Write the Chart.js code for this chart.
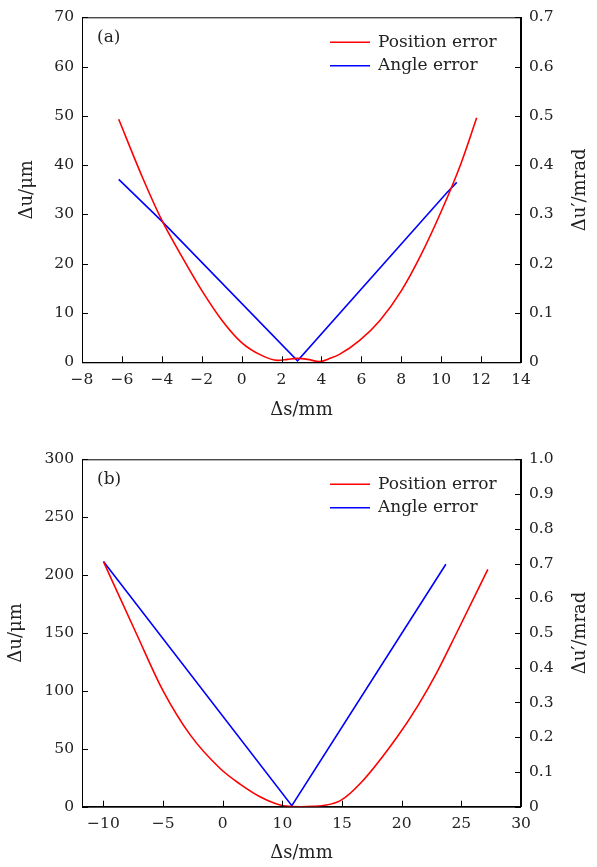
<!DOCTYPE html>
<html>
<head>
<meta charset="utf-8">
<script src="https://cdn.jsdelivr.net/npm/chart.js@4.4.1/dist/chart.umd.min.js"></script>
<style>
  body { margin: 0; background: #fff; }
  canvas { position: absolute; left: 0; }
  #chartA { top: 0; }
  #chartB { top: 433px; }
</style>
</head>
<body>
<canvas id="chartA" width="597" height="433"></canvas>
<canvas id="chartB" width="597" height="434"></canvas>
<script>
// (a) position error, um
var posXA = [-6.16, -5.0, -4.02, -3.0, -2.0, -1.0, 0, 1.0, 1.8, 2.3, 2.75, 3.3, 3.9, 4.43, 4.9, 5.93, 6.93, 8.0, 9.0, 10.0, 10.96, 11.78];
var posUA = [49.3, 37.8, 29, 21.5, 14.6, 8.6, 4.0, 1.4, 0.4, 0.6, 0.8, 0.6, 0.15, 0.8, 1.6, 4.5, 8.5, 14.5, 21.9, 30.6, 40.0, 49.6];
// (a) angle error, mrad
var angXA = [-6.16, -4.04, 2.8, 10.26, 10.78];
var angVA = [0.371, 0.288, 0.003, 0.343, 0.365];

// (b) position error, um
var posXB = [-5, -2.2, 0, 2.27, 4.78, 6.45, 8.12, 9.8, 10.6, 11.6, 12.6, 13.3, 14.86, 16.54, 19.6, 21.4, 22.95, 24.6, 27.22];
var posUB = [211.6, 148.5, 100, 62, 33, 19.5, 8.6, 1.5, 0.3, 0, 0.3, 0.8, 5.2, 20.2, 60, 88, 116, 150, 205];
// (b) angle error, mrad
var angXB = [-5, 10.79, 23.7];
var angVB = [0.706, 0.003, 0.698];

var xTicksA = [-8, -6, -4, -2, 0, 2, 4, 6, 8, 10, 12, 14];
var xLabelsA = ['\u22128', '\u22126', '\u22124', '\u22122', '0', '2', '4', '6', '8', '10', '12', '14'];
var xTicksB = [-5, 0, 5, 10, 15, 20, 25, 30];
var xLabelsB = ['\u221210', '\u22125', '0', '10', '15', '20', '25', '30'];
var yLabelsA2 = ['0', '0.1', '0.2', '0.3', '0.4', '0.5', '0.6', '0.7'];
var yLabelsB2 = ['0', '0.1', '0.2', '0.3', '0.4', '0.5', '0.6', '0.7', '0.8', '0.9', '1.0'];

var FONT = 'DejaVu Serif';
var TXT = '#222';
var TICK = 15.5, TITLE = 18, LEG = 17;

function pts(xs, ys) {
    return xs.map(function (x, i) { return { x: x, y: ys[i] }; });
}

// frame + inward ticks + panel letter + legend + right axis title
var decor = {
    id: 'decor',
    afterDraw: function (chart) {
        var ctx = chart.ctx, a = chart.chartArea;
        ctx.save();
        ctx.strokeStyle = '#000';
        ctx.lineWidth = 1;
        ctx.strokeRect(a.left + 0.5, a.top + 0.5, a.right - a.left - 1, a.bottom - a.top);
        ctx.beginPath();
        ['x', 'y', 'y2'].forEach(function (id) {
            var s = chart.scales[id];
            s.ticks.forEach(function (t) {
                var p = Math.round(s.getPixelForValue(t.value)) + 0.5;
                if (id === 'x') { ctx.moveTo(p, a.bottom); ctx.lineTo(p, a.bottom - 6); }
                else if (id === 'y') { ctx.moveTo(a.left, p); ctx.lineTo(a.left + 6, p); }
                else { ctx.moveTo(a.right, p); ctx.lineTo(a.right - 6, p); }
            });
        });
        ctx.stroke();

        ctx.fillStyle = TXT;
        ctx.font = LEG + 'px "' + FONT + '"';
        ctx.textBaseline = 'middle';
        ctx.textAlign = 'left';
        ctx.fillText(chart.options.plugins.decor.panel, a.left + 15, a.top + 20);

        chart.data.datasets.forEach(function (ds, i) {
            var y = a.top + 25 + i * 23.5;
            ctx.strokeStyle = ds.borderColor;
            ctx.lineWidth = 1.5;
            ctx.beginPath();
            ctx.moveTo(a.right - 191, y);
            ctx.lineTo(a.right - 151, y);
            ctx.stroke();
            ctx.fillText(ds.label, a.right - 143, y);
        });

        // right axis title, reading bottom to top like the left one
        ctx.font = TITLE + 'px "' + FONT + '"';
        ctx.translate(chart.width - 17, (a.top + a.bottom) / 2);
        ctx.rotate(-Math.PI / 2);
        ctx.textAlign = 'center';
        ctx.fillText('\u0394u\u2032/mrad', 0, 0);
        ctx.restore();
    }
};

function makeChart(el, cfg) {
    return new Chart(document.getElementById(el), {
        type: 'line',
        data: {
            datasets: [{
                label: 'Position error',
                data: cfg.pos,
                yAxisID: 'y',
                borderColor: '#ff0000',
                borderWidth: 1.6,
                pointRadius: 0,
                cubicInterpolationMode: 'monotone'
            }, {
                label: 'Angle error',
                data: cfg.ang,
                yAxisID: 'y2',
                borderColor: '#0000ff',
                borderWidth: 1.6,
                pointRadius: 0,
                tension: 0
            }]
        },
        options: {
            responsive: false,
            animation: false,
            layout: { padding: { top: cfg.padTop, left: 0, right: 0, bottom: 0 } },
            plugins: {
                legend: { display: false },
                tooltip: { enabled: false },
                decor: { panel: cfg.panel }
            },
            scales: {
                x: {
                    type: 'linear',
                    min: cfg.xMin, max: cfg.xMax,
                    afterBuildTicks: function (s) { s.ticks = cfg.xTicks.map(function (v) { return { value: v }; }); },
                    afterFit: function (s) { s.height = cfg.xHeight; },
                    grid: { display: false, drawTicks: false },
                    border: { display: true, color: '#000', width: 1 },
                    ticks: {
                        padding: 8, color: TXT, font: { family: FONT, size: TICK }, maxRotation: 0, autoSkip: false,
                        callback: function (v, i) { return cfg.xLabels[i]; }
                    },
                    title: { display: true, text: '\u0394s/mm', color: TXT, font: { family: FONT, size: TITLE }, padding: { top: 0, bottom: cfg.xTitlePad } }
                },
                y: {
                    position: 'left',
                    min: 0, max: cfg.yMax,
                    afterBuildTicks: function (s) {
                        var t = [];
                        for (var i = 0; i <= cfg.yMax; i += cfg.yStep) t.push({ value: i });
                        s.ticks = t;
                    },
                    afterFit: function (s) { s.width = 82; },
                    grid: { display: false, drawTicks: false },
                    border: { display: true, color: '#000', width: 1 },
                    ticks: { padding: 8, color: TXT, font: { family: FONT, size: TICK } },
                    title: { display: true, text: '\u0394u/\u03bcm', color: TXT, font: { family: FONT, size: TITLE }, padding: { top: cfg.yTitlePad, bottom: 0 } }
                },
                y2: {
                    position: 'right',
                    min: 0, max: cfg.y2Max,
                    afterBuildTicks: function (s) {
                        s.ticks = cfg.y2Labels.map(function (l, i) { return { value: i / 10 }; });
                    },
                    afterFit: function (s) { s.width = 76; },
                    grid: { display: false, drawTicks: false },
                    border: { display: true, color: '#000', width: 1 },
                    ticks: {
                        padding: 8, color: TXT, font: { family: FONT, size: TICK },
                        callback: function (v, i) { return cfg.y2Labels[i]; }
                    },
                    title: { display: false }
                }
            }
        },
        plugins: [decor]
    });
}

makeChart('chartA', {
    pos: pts(posXA, posUA), ang: pts(angXA, angVA),
    panel: '(a)', padTop: 15, xHeight: 70.7, xTitlePad: 12, yTitlePad: 17,
    xMin: -8, xMax: 14, xTicks: xTicksA, xLabels: xLabelsA,
    yMax: 70, yStep: 10, y2Max: 0.7, y2Labels: yLabelsA2
});

makeChart('chartB', {
    pos: pts(posXB, posUB), ang: pts(angXB, angVB),
    panel: '(b)', padTop: 26.3, xHeight: 60.3, xTitlePad: 3, yTitlePad: 6,
    xMin: -6.8, xMax: 30, xTicks: xTicksB, xLabels: xLabelsB,
    yMax: 300, yStep: 50, y2Max: 1.0, y2Labels: yLabelsB2
});
</script>
</body>
</html>
